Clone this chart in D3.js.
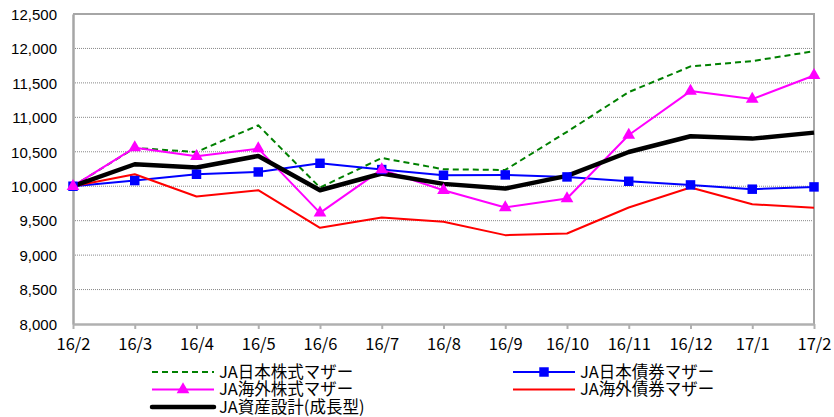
<!DOCTYPE html>
<html>
<head>
<meta charset="utf-8">
<script src="https://cdn.jsdelivr.net/npm/d3@7"></script>
<style>
  body { margin: 0; background: #fff; }
  svg { display: block; }
  .y-label { font-family: "Liberation Sans", Arial, sans-serif; font-size: 15px; fill: #000; }
  .x-label { font-family: "Noto Sans CJK JP", sans-serif; font-size: 16.5px; fill: #000; }
  .legend-text { font-family: "Noto Sans CJK JP", sans-serif; font-size: 16.5px; fill: #000; }
</style>
</head>
<body>
<div id="chart"></div>
<script>
const months = ['16/2', '16/3', '16/4', '16/5', '16/6', '16/7', '16/8', '16/9', '16/10', '16/11', '16/12', '17/1', '17/2'];
const yTicks = [8000, 8500, 9000, 9500, 10000, 10500, 11000, 11500, 12000, 12500];

const jpStock = [10000, 10555, 10497, 10884, 9980, 10410, 10246, 10236, 10790, 11366, 11739, 11816, 11960];
const jpBond = [10000, 10082, 10174, 10207, 10333, 10242, 10159, 10164, 10135, 10072, 10019, 9957, 9990];
const fgStock = [10000, 10560, 10435, 10546, 9613, 10240, 9942, 9691, 9822, 10744, 11381, 11265, 11608];
const fgBond = [10000, 10174, 9850, 9942, 9396, 9546, 9483, 9290, 9314, 9691, 9981, 9739, 9686];
const balanced = [10000, 10319, 10271, 10439, 9942, 10184, 10034, 9966, 10150, 10497, 10725, 10691, 10778];

const series = [
  { name: 'JA日本株式マザー', values: jpStock, color: '#008000', width: 2, dash: '6,4', marker: null },
  { name: 'JA日本債券マザー', values: jpBond, color: '#0000ff', width: 2, dash: null, marker: 'square' },
  { name: 'JA海外株式マザー', values: fgStock, color: '#ff00ff', width: 2, dash: null, marker: 'triangle' },
  { name: 'JA海外債券マザー', values: fgBond, color: '#ff0000', width: 2, dash: null, marker: null },
  { name: 'JA資産設計(成長型)', values: balanced, color: '#000000', width: 4.5, dash: null, marker: null },
];

const width = 834;
const height = 417;
const margin = { top: 14, right: 20, bottom: 93, left: 73 };
const innerWidth = width - margin.left - margin.right;
const innerHeight = height - margin.top - margin.bottom;

const svg = d3.select('#chart')
  .append('svg')
  .attr('width', width)
  .attr('height', height);

const g = svg.append('g')
  .attr('transform', `translate(${margin.left}, ${margin.top})`);

const x = d3.scalePoint()
  .domain(months)
  .range([0, innerWidth]);

const y = d3.scaleLinear()
  .domain([8000, 12500])
  .range([innerHeight, 0]);

// grid
g.selectAll('.grid')
  .data(yTicks.slice(1, -1))
  .enter()
  .append('line')
  .attr('x1', 0)
  .attr('x2', innerWidth)
  .attr('y1', d => y(d))
  .attr('y2', d => y(d))
  .attr('stroke', '#888')
  .attr('stroke-width', 1)
  .attr('stroke-dasharray', '1,1');

// frame (top + right)
g.append('path')
  .attr('d', `M0,${y(12500)}H${innerWidth}V${innerHeight}`)
  .attr('fill', 'none')
  .attr('stroke', '#a6a6a6')
  .attr('stroke-width', 2);

// y axis
const yAxis = g.append('g')
  .call(d3.axisLeft(y).tickValues(yTicks).tickSize(0).tickPadding(16).tickFormat(d3.format(',')));
yAxis.select('.domain').attr('stroke', '#a6a6a6').attr('stroke-width', 2.5);
yAxis.selectAll('text').attr('class', 'y-label').attr('dy', '0.35em');

// x axis
const xAxis = g.append('g')
  .attr('transform', `translate(0, ${innerHeight})`)
  .call(d3.axisBottom(x).tickSize(5).tickPadding(9).tickSizeOuter(0));
xAxis.select('.domain').attr('stroke', '#b0b0b0').attr('stroke-width', 2.5);
xAxis.selectAll('.tick line').attr('stroke', '#b0b0b0').attr('stroke-width', 2);
xAxis.selectAll('text').attr('class', 'x-label');

const line = d3.line()
  .x((d, i) => x(months[i]))
  .y(d => y(d));

g.selectAll('.series-line')
  .data(series)
  .enter()
  .append('path')
  .attr('class', 'series-line')
  .attr('d', d => line(d.values))
  .attr('fill', 'none')
  .attr('stroke', d => d.color)
  .attr('stroke-width', d => d.width)
  .attr('stroke-dasharray', d => d.dash)
  .attr('stroke-linejoin', 'round');

const squareSym = d3.symbol().type(d3.symbolSquare).size(90);
const triSym = d3.symbol().type(d3.symbolTriangle).size(70);

function drawMarkers(sel, s, xs, ys) {
  const sym = s.marker === 'square' ? squareSym : triSym;
  sel.append('path')
    .attr('d', sym)
    .attr('transform', `translate(${xs}, ${ys})`)
    .attr('fill', s.color);
}

series.filter(s => s.marker).forEach(s => {
  s.values.forEach((v, i) => drawMarkers(g, s, x(months[i]), y(v)));
});

// legend
const legendItems = [
  { s: series[0], x: 152, y: 372 },
  { s: series[1], x: 513, y: 372 },
  { s: series[2], x: 152, y: 389.5 },
  { s: series[3], x: 513, y: 389.5 },
  { s: series[4], x: 152, y: 407 },
];

const legend = svg.append('g');
legendItems.forEach(item => {
  const { s } = item;
  legend.append('line')
    .attr('x1', item.x)
    .attr('x2', item.x + 62)
    .attr('y1', item.y)
    .attr('y2', item.y)
    .attr('stroke', s.color)
    .attr('stroke-width', s.width)
    .attr('stroke-dasharray', s.dash)
    .attr('stroke-linecap', s.width > 3 ? 'round' : 'butt');
  if (s.marker) {
    drawMarkers(legend, s, item.x + 31, item.y);
  }
  legend.append('text')
    .attr('class', 'legend-text')
    .attr('x', item.x + 67)
    .attr('y', item.y)
    .attr('dy', '0.35em')
    .text(s.name);
});
</script>
</body>
</html>
